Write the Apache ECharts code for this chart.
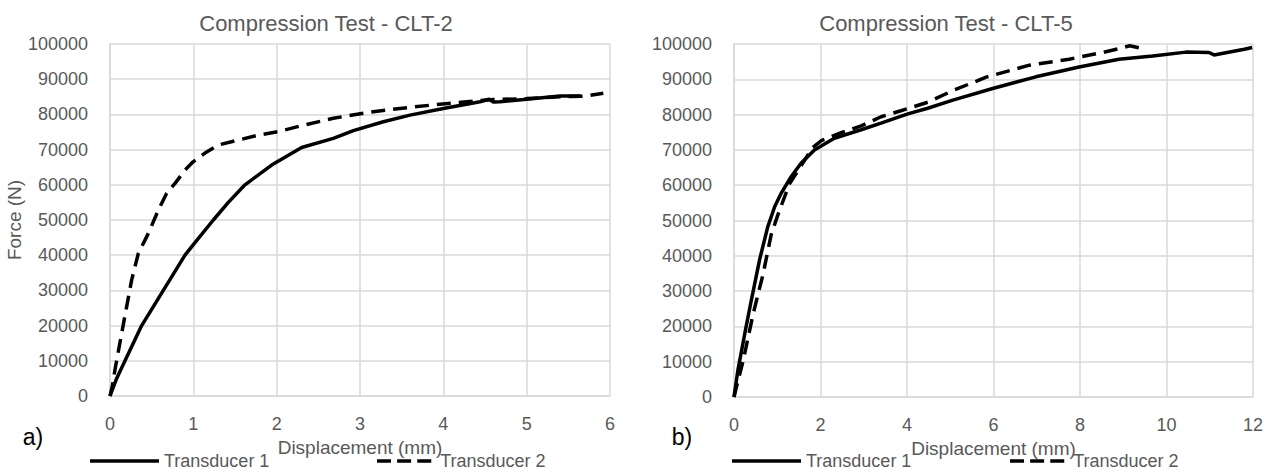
<!DOCTYPE html>
<html>
<head>
<meta charset="utf-8">
<script src="https://cdn.jsdelivr.net/npm/echarts@6/dist/echarts.min.js"></script>
<style>
html,body{margin:0;padding:0;background:#fff;}
#c{width:1271px;height:470px;}
</style>
</head>
<body>
<div id="c"></div>
<script>
// ---- Data ----
const seriesNames = ['Transducer 1', 'Transducer 2'];
const titles = ['Compression Test - CLT-2', 'Compression Test - CLT-5'];
const panelLabels = ['a)', 'b)'];
const xAxisName = 'Displacement (mm)';
const yAxisName = 'Force (N)';

// CLT-2, Transducer 1
const clt2T1Disp  = [0, 0.08, 0.18, 0.38, 0.64, 0.9, 1.0, 1.24, 1.42, 1.62, 1.94, 2.3, 2.68, 2.92, 3.28, 3.6, 4.0, 4.44, 4.55, 4.6, 4.68, 5.0, 5.4, 5.65];
const clt2T1Force = [0, 5000, 10000, 20000, 30000, 40000, 43000, 50000, 55000, 60000, 65600, 70600, 73200, 75400, 77900, 79800, 81700, 83600, 84300, 83500, 83600, 84300, 85200, 85200];
// CLT-2, Transducer 2
const clt2T2Disp  = [0, 0.03, 0.06, 0.14, 0.2, 0.26, 0.34, 0.46, 0.58, 0.68, 0.78, 0.9, 1.0, 1.14, 1.3, 1.54, 1.78, 2.02, 2.28, 2.68, 3.08, 3.48, 3.88, 4.28, 4.6, 5.0, 5.4, 5.7, 5.92];
const clt2T2Force = [0, 3000, 7500, 17800, 25400, 33000, 40500, 46200, 52800, 57600, 60400, 64200, 66600, 69000, 71300, 72700, 74100, 75100, 76700, 78900, 80500, 81700, 82700, 83600, 84200, 84500, 85000, 85200, 86000];
// CLT-5, Transducer 1
const clt5T1Disp  = [0, 0.09, 0.25, 0.4, 0.59, 0.78, 0.94, 1.09, 1.32, 1.55, 1.86, 2.32, 2.94, 3.4, 4.02, 4.48, 5.06, 5.98, 6.98, 7.98, 8.9, 9.68, 10.45, 10.98, 11.1, 11.8, 11.98];
const clt5T1Force = [0, 7600, 18000, 27400, 38800, 48200, 53900, 57700, 62400, 66200, 70000, 73300, 75700, 77600, 80200, 81800, 84100, 87400, 90700, 93500, 95700, 96600, 97700, 97600, 96900, 98500, 99000];
// CLT-5, Transducer 2
const clt5T2Disp  = [0, 0.05, 0.21, 0.44, 0.67, 0.86, 1.02, 1.28, 1.55, 1.82, 2.02, 2.48, 2.94, 3.4, 3.86, 4.48, 5.06, 5.83, 6.83, 7.75, 8.52, 8.91, 9.15, 9.46];
const clt5T2Force = [0, 2500, 10200, 23400, 34700, 46000, 51800, 60300, 65500, 70700, 72600, 74900, 76800, 79400, 81100, 83500, 86800, 90600, 94000, 95700, 97600, 98700, 99500, 98700];

const xMax = [6, 12];
const xInterval = [1, 2];
const yMax = 100000;
const yInterval = 10000;

function pairs(xs, ys) { return xs.map((x, i) => [x, ys[i]]); }

const FONT = 'Liberation Sans';
const GREY = '#595959';
const GRID = '#d9d9d9';
const plain = v => String(v);

const chart = echarts.init(document.getElementById('c'), null, { renderer: 'svg' });

function xAx(i) {
  return {
    type: 'value', gridIndex: i, min: 0, max: xMax[i], interval: xInterval[i],
    name: xAxisName, nameLocation: 'middle', nameGap: 33,
    nameTextStyle: { color: GREY, fontSize: 19, fontFamily: FONT },
    axisLine: { show: true, lineStyle: { color: GRID, width: 1.5 } },
    axisTick: { show: false },
    axisLabel: { color: GREY, fontSize: 18, fontFamily: FONT, margin: 19, formatter: plain },
    splitLine: { show: true, lineStyle: { color: GRID, width: 1.5 } }
  };
}
function yAx(i) {
  const a = {
    type: 'value', gridIndex: i, min: 0, max: yMax, interval: yInterval,
    axisLine: { show: true, lineStyle: { color: GRID, width: 1.5 } },
    axisTick: { show: false },
    axisLabel: { color: GREY, fontSize: 18, fontFamily: FONT, margin: 22, formatter: plain },
    splitLine: { show: true, lineStyle: { color: GRID, width: 1.5 } }
  };
  if (i === 0) {
    a.name = yAxisName; a.nameLocation = 'middle'; a.nameGap = 83;
    a.nameTextStyle = { color: GREY, fontSize: 19, fontFamily: FONT };
  }
  return a;
}
function ser(name, i, data, dashed) {
  return {
    name: name, type: 'line', xAxisIndex: i, yAxisIndex: i,
    data: data, symbol: 'none', showSymbol: false, smooth: false,
    lineStyle: { color: '#000', width: 3.5, type: dashed ? [14, 8] : 'solid' },
    itemStyle: { color: '#000' },
    z: dashed ? 3 : 2
  };
}
const SOLID_ICON = 'rect';
const DASH_ICON = 'path://M0,0h16v4h-16z M23,0h16v4h-16z M46,0h16v4h-16z';
function legendItem(left, name, dashed) {
  return {
    left: left, top: 452, orient: 'horizontal', padding: 0,
    itemWidth: dashed ? 62 : 69, itemHeight: 3.5,
    data: [{ name: name, icon: dashed ? DASH_ICON : SOLID_ICON }],
    itemStyle: { color: '#000', borderWidth: 0 },
    textStyle: { color: GREY, fontSize: 18, fontFamily: FONT }
  };
}

chart.setOption({
  animation: false,
  backgroundColor: '#fff',
  grid: [
    { left: 110, top: 44, width: 500, height: 352 },
    { left: 734, top: 44, width: 519, height: 353 }
  ],
  xAxis: [xAx(0), xAx(1)],
  yAxis: [yAx(0), yAx(1)],
  legend: [
    legendItem(90, seriesNames[0], false),
    legendItem(377, seriesNames[1], true),
    legendItem(732, seriesNames[0], false),
    legendItem(1010, seriesNames[1], true)
  ],
  graphic: [
    { type: 'text', x: 326, y: 23, style: { text: titles[0], fill: GREY, fontSize: 22, fontFamily: FONT, textAlign: 'center', textVerticalAlign: 'middle' } },
    { type: 'text', x: 946, y: 23, style: { text: titles[1], fill: GREY, fontSize: 22, fontFamily: FONT, textAlign: 'center', textVerticalAlign: 'middle' } },
    { type: 'text', x: 33, y: 437, style: { text: panelLabels[0], fill: '#000', fontSize: 23, fontFamily: FONT, textAlign: 'center', textVerticalAlign: 'middle' } },
    { type: 'text', x: 682, y: 437, style: { text: panelLabels[1], fill: '#000', fontSize: 23, fontFamily: FONT, textAlign: 'center', textVerticalAlign: 'middle' } }
  ],
  series: [
    ser(seriesNames[0], 0, pairs(clt2T1Disp, clt2T1Force), false),
    ser(seriesNames[1], 0, pairs(clt2T2Disp, clt2T2Force), true),
    ser(seriesNames[0], 1, pairs(clt5T1Disp, clt5T1Force), false),
    ser(seriesNames[1], 1, pairs(clt5T2Disp, clt5T2Force), true)
  ]
});
</script>
</body>
</html>
